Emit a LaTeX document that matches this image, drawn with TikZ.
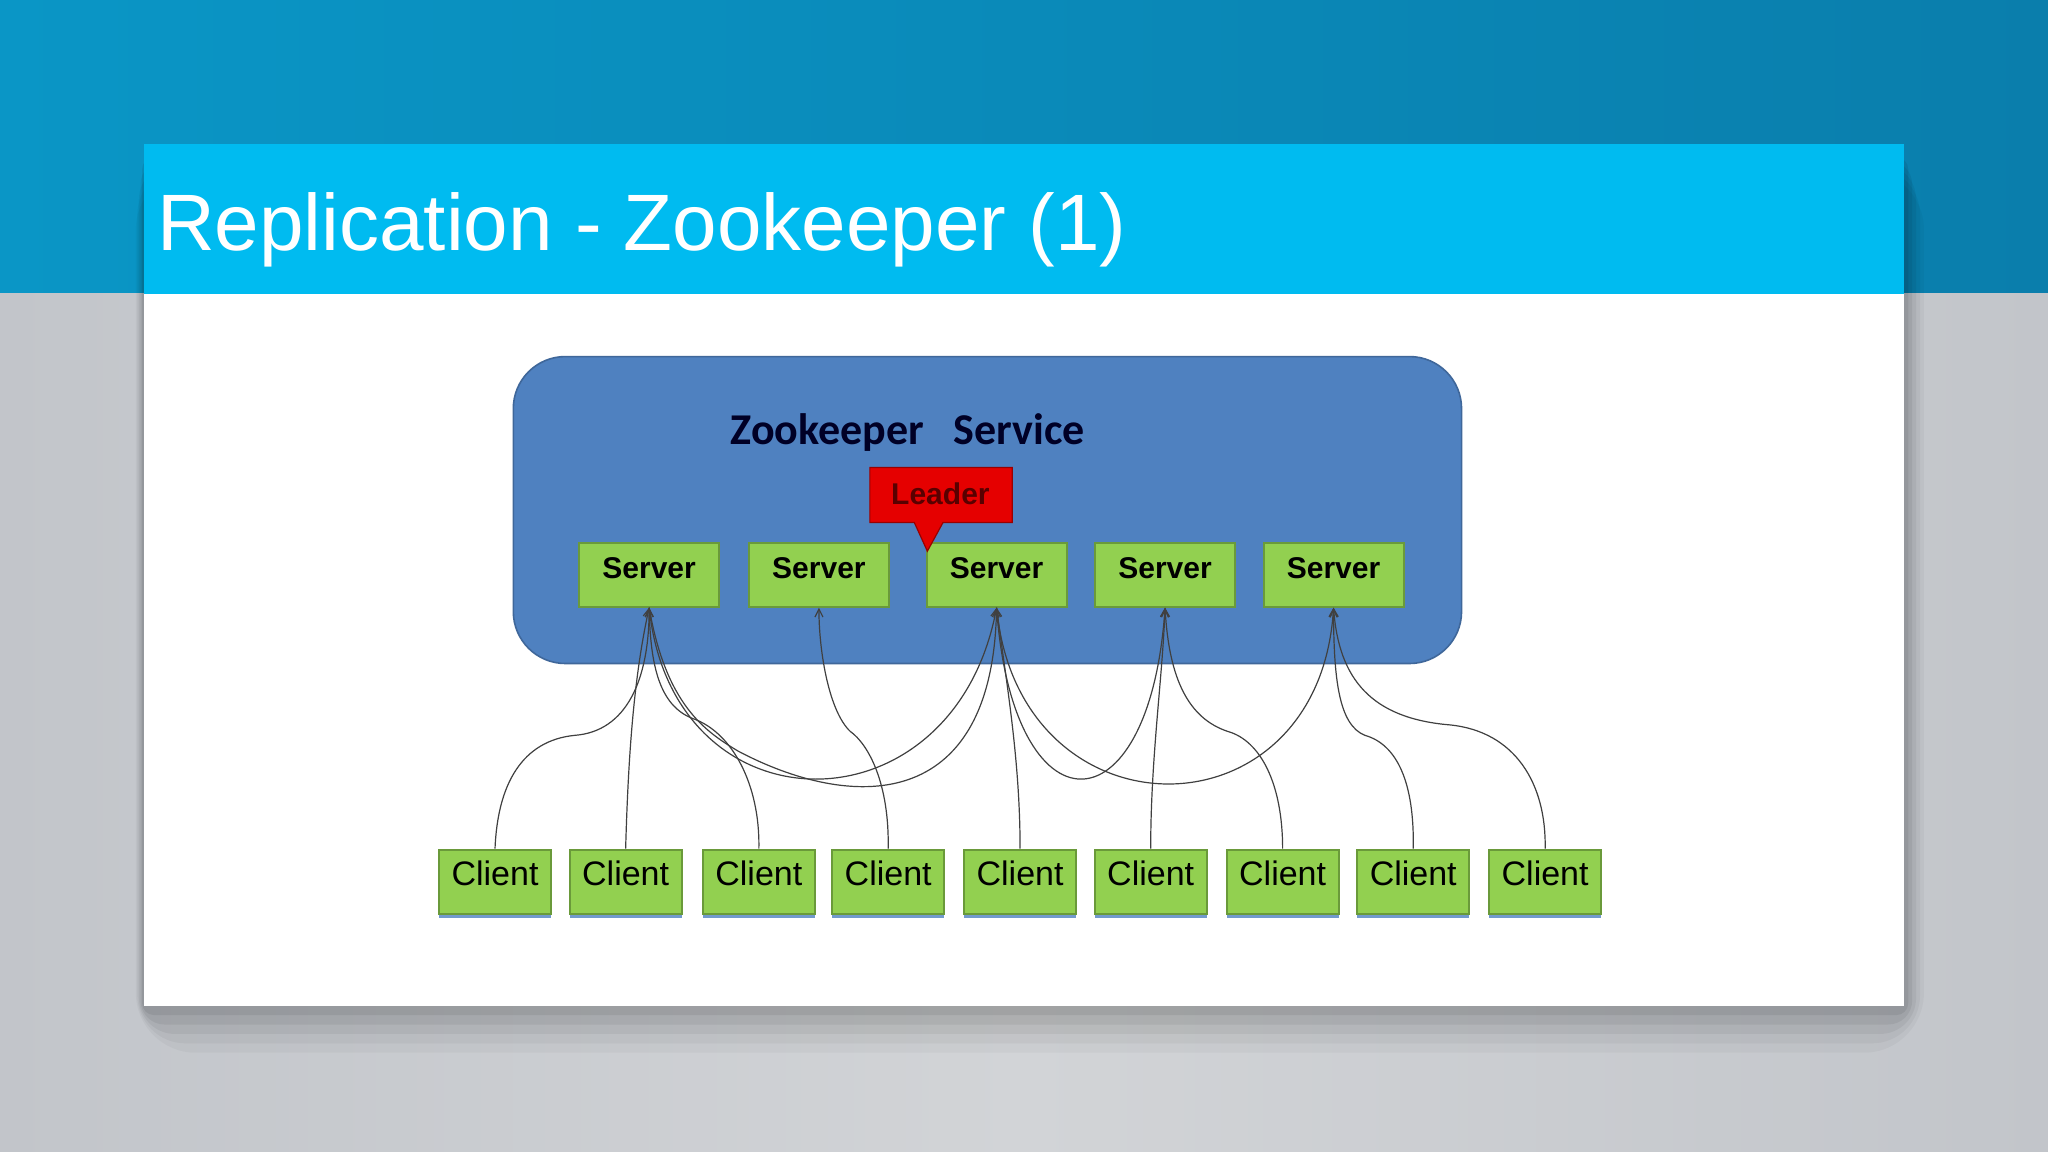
\documentclass[tikz,border=0pt]{standalone}
\usepackage{fontspec}
\setmainfont{Liberation Sans}
\newfontfamily\calfont{Carlito}
\usetikzlibrary{arrows.meta,shadows}
\definecolor{topblue}{HTML}{0A96C6}
\definecolor{topblue2}{HTML}{0A7EAC}
\definecolor{titlebar}{HTML}{00BBF0}
\definecolor{svcblue}{HTML}{4F81C0}
\definecolor{boxgreen}{HTML}{92D050}
\definecolor{boxedge}{HTML}{6A9A3A}
\definecolor{bggray}{HTML}{C2C5CA}
\definecolor{bggray2}{HTML}{D2D4D7}
\begin{document}
\begin{tikzpicture}[x=0.653pt,y=-0.653pt,
  box/.style={draw=boxedge,line width=1pt,fill=boxgreen,minimum height=32pt,inner sep=0pt},
  srv/.style={box,minimum width=70pt,font=\fontsize{15}{16}\selectfont\bfseries},
  cli/.style={box,minimum width=56pt,font=\fontsize{17}{18}\selectfont,
     drop shadow={shadow xshift=0pt,shadow yshift=-2pt,fill=svcblue,opacity=0.8}},
  lnk/.style={draw=black!75,line width=0.6pt,-{Straight Barb[length=4pt,width=4pt]}}]
\useasboundingbox (0,0) rectangle (1568,882);
% background
\shade[left color=topblue,right color=topblue2] (0,0) rectangle (1568,225);
\shade[left color=bggray,right color=bggray,middle color=bggray2] (0,225) rectangle (1568,882);
% card shadow
\foreach \o/\op in {30/0.03,24/0.04,18/0.05,12/0.06,6/0.07}{
  \fill[black,opacity=\op,rounded corners=\o pt] (110-\o*0.2,118+\o*0.4) rectangle (1458+\o*0.5,770+\o*1.2);}
\fill[white] (110,110) rectangle (1458,770);
\fill[titlebar] (110,110) rectangle (1458,225);
\node[anchor=base west,text=white,inner sep=0pt,font=\fontsize{40}{42}\selectfont] (title) at (120,192) {Replication - Zookeeper (1)};
% service
\fill[svcblue,draw=svcblue!80!black,line width=0.8pt,rounded corners=26pt] (393,273) rectangle (1119,508);
\node[font=\calfont\fontsize{22}{24}\selectfont\bfseries,text=black!85!blue] (svc) at (695,331) {Zookeeper\ \ \ Service};
% servers
\foreach \n/\x in {1/497,2/627,3/763,4/892,5/1021}{
  \node[srv] (s\n) at (\x,440) {\raisebox{7pt}{Server}};}
% leader callout
\fill[red!90!black,draw=red!60!black,line width=0.6pt] (666,358) -- (775,358) -- (775,400) -- (722,400) -- (710,422) -- (700,400) -- (666,400) -- cycle;
\node[font=\fontsize{15}{16}\selectfont\bfseries,text=red!35!black] (lead) at (720,378) {Leader};
% clients
\foreach \n/\x in {1/379,2/479,3/581,4/680,5/781,6/881,7/982,8/1082,9/1183}{
  \node[cli] (c\n) at (\x,675) {\raisebox{8pt}{Client}};}
% client links
\draw[lnk] (c1.north) .. controls (381,600) and (400,567) .. (440,563) .. controls (480,560) and (497,520) .. (s1.south);
\draw[lnk] (c2.north) .. controls (481,580) and (485,520) .. (s1.south);
\draw[lnk] (c3.north) .. controls (582,600) and (560,560) .. (530,550) .. controls (505,540) and (498,510) .. (s1.south);
\draw[lnk] (c4.north) .. controls (681,600) and (665,570) .. (651,560) .. controls (635,545) and (627,500) .. (s2.south);
\draw[lnk] (c5.north) .. controls (781,580) and (770,520) .. (s3.south);
\draw[lnk] (c6.north) .. controls (881,580) and (890,520) .. (s4.south);
\draw[lnk] (c7.north) .. controls (982,600) and (965,567) .. (940,560) .. controls (910,550) and (895,520) .. (s4.south);
\draw[lnk] (c8.north) .. controls (1083,600) and (1070,570) .. (1045,563) .. controls (1025,555) and (1021,520) .. (s5.south);
\draw[lnk] (c9.north) .. controls (1184,600) and (1160,560) .. (1110,555) .. controls (1050,550) and (1025,520) .. (s5.south);
% server-server links
\draw[lnk] (s1.south) .. controls (515,640) and (730,640) .. (s3.south);
\draw[lnk] (s1.south) .. controls (510,540) and (540,560) .. (565,575) .. controls (650,620) and (760,625) .. (s3.south);
\draw[lnk] (s3.south) .. controls (775,640) and (880,640) .. (s4.south);
\draw[lnk] (s3.south) .. controls (780,645) and (1010,645) .. (s5.south);
\end{tikzpicture}
\end{document}
